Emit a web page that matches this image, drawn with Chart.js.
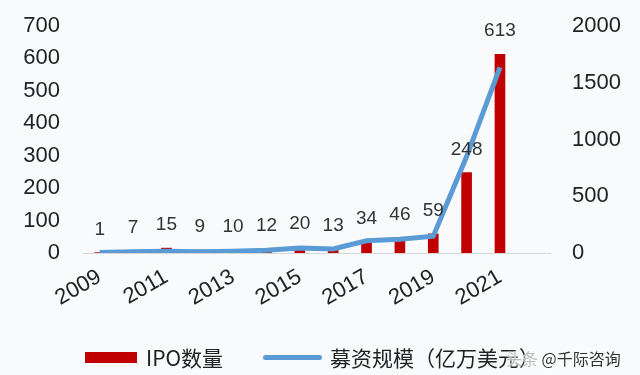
<!DOCTYPE html>
<html>
<head>
<meta charset="utf-8">
<script src="https://cdn.jsdelivr.net/npm/chart.js@4/dist/chart.umd.min.js"></script>
<style>
  body { margin: 0; background: #f8fafc; }
  #wrap { position: relative; width: 640px; height: 375px; background: #f8fafc; }
  #legend { position: absolute; left: 0; top: 343px; width: 640px; height: 30px;
    font-family: "Noto Sans CJK SC", sans-serif; font-size: 21px; color: #222; }
  .item { position: absolute; top: 0; line-height: 28px; white-space: nowrap; }
  .swatch { position: absolute; }
  #mark { position: absolute; left: 506px; top: 346px; font-family: "Noto Sans CJK SC", sans-serif;
    font-size: 16px; color: #333; text-shadow: 0 0 2px #fff, 0 0 2px #fff; white-space: nowrap; }
</style>
</head>
<body>
<div id="wrap">
  <canvas id="c" width="640" height="375"></canvas>
  <div id="legend"></div>
  <div id="mark"><span style="color:#bbb">头条</span> @千际咨询</div>
</div>
<script>
// data
const years = ['2009','2010','2011','2012','2013','2014','2015','2016','2017','2018','2019','2020','2021','2022'];
const ipoCount = [1, 7, 15, 9, 10, 12, 20, 13, 34, 46, 59, 248, 613, null];
const raised = [5, 10, 15, 10, 15, 25, 45, 35, 107, 122, 148, 850, 1635, null];
const countTicks = [0, 100, 200, 300, 400, 500, 600, 700];
const raisedTicks = [0, 500, 1000, 1500, 2000];

const red = '#c00000';
const blue = '#5b9bd5';
const tickFont = { family: '"Liberation Sans", Arial, sans-serif', size: 22 };

// numbers over the bars
const barLabels = {
  id: 'barLabels',
  afterDatasetsDraw(chart) {
    const ctx = chart.ctx;
    const meta = chart.getDatasetMeta(1);
    ctx.save();
    ctx.font = '19px "Liberation Sans", Arial, sans-serif';
    ctx.fillStyle = '#333';
    ctx.textAlign = 'center';
    ctx.textBaseline = 'middle';
    meta.data.forEach((bar, i) => {
      const v = ipoCount[i];
      if (v == null) return;
      ctx.fillText(String(v), bar.x, bar.y - 23);
    });
    ctx.restore();
  }
};

const fitY = w => s => { s.width = w; s.paddingTop = 0; s.paddingBottom = 0; };

const chart = new Chart(document.getElementById('c'), {
  type: 'bar',
  data: {
    labels: years,
    datasets: [
      {
        type: 'line', label: '募资规模（亿万美元）', data: raised, yAxisID: 'y1',
        borderColor: blue, backgroundColor: blue, borderWidth: 5,
        pointRadius: 0, tension: 0, order: 0
      },
      {
        type: 'bar', label: 'IPO数量', data: ipoCount, yAxisID: 'y',
        backgroundColor: red, barThickness: 10, order: 1
      }
    ]
  },
  options: {
    responsive: false,
    animation: false,
    layout: { padding: { top: 26, bottom: 0 } },
    plugins: { legend: { display: false }, tooltip: { enabled: false } },
    scales: {
      x: {
        grid: { display: false },
        border: { display: true, color: '#d6d6d6', width: 1 },
        ticks: {
          font: tickFont, color: '#222', minRotation: 30, maxRotation: 30, padding: 3,
          autoSkip: false,
          callback: (v, i) => (i % 2 === 0 && i < 13) ? years[i] : ''
        },
        afterFit: s => { s.height = 122; s.paddingLeft = 0; s.paddingRight = 0; }
      },
      y: {
        position: 'left', min: 0, max: 700,
        grid: { display: false, drawTicks: false }, border: { display: false },
        afterBuildTicks: s => { s.ticks = countTicks.map(v => ({ value: v })); },
        ticks: { font: tickFont, color: '#222', padding: 23, callback: v => String(v) },
        afterFit: fitY(83)
      },
      y1: {
        position: 'right', min: 0, max: 2000,
        grid: { display: false, drawTicks: false }, border: { display: false },
        afterBuildTicks: s => { s.ticks = raisedTicks.map(v => ({ value: v })); },
        ticks: { font: tickFont, color: '#222', padding: 22, callback: v => String(v) },
        afterFit: fitY(90)
      }
    }
  },
  plugins: [barLabels]
});

// legend under the chart
const legend = document.getElementById('legend');
legend.innerHTML =
  '<div class="swatch" style="left:85px;top:9px;width:52px;height:11px;background:' + red + '"></div>' +
  '<div class="item" style="left:146px">' + chart.data.datasets[1].label + '</div>' +
  '<div class="swatch" style="left:263px;top:12px;width:59px;height:5px;border-radius:3px;background:' + blue + '"></div>' +
  '<div class="item" style="left:330px">' + chart.data.datasets[0].label + '</div>';
</script>
</body>
</html>
